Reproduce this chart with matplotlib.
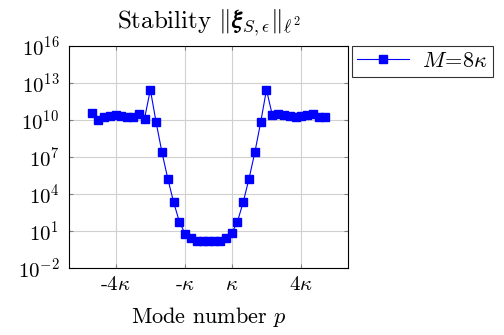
import numpy as np
import matplotlib
matplotlib.use("Agg")
import matplotlib.pyplot as plt
from matplotlib.ticker import FixedLocator, NullLocator, LogFormatterMathtext

plt.rcParams["font.family"] = "cmr10"
plt.rcParams["mathtext.fontset"] = "cm"
plt.rcParams["axes.formatter.use_mathtext"] = True

kappa = 4
# mode numbers p = -20 .. 20
modes = list(range(-20, 21))
# log10 of the stability norm for each mode
log_norm = [
    10.6, 10.0, 10.2, 10.3, 10.4, 10.3, 10.2, 10.2, 10.5, 10.1,
    12.45, 9.8, 7.38, 5.25, 3.35, 1.75, 0.75, 0.4, 0.2, 0.15,
    0.15,
    0.15, 0.2, 0.4, 0.8, 1.75, 3.35, 5.25, 7.38, 9.8, 12.45,
    10.4, 10.5, 10.4, 10.3, 10.2, 10.3, 10.4, 10.5, 10.2, 10.2,
]
xtick_vals = [-4, -1, 1, 4]
xtick_labels = ["-4$\\kappa$", "-$\\kappa$", "$\\kappa$", "4$\\kappa$"]
ytick_exps = [-2, 1, 4, 7, 10, 13, 16]

fig = plt.figure(figsize=(5.04, 3.35), dpi=100)
ax = fig.add_axes([0.137, 0.2, 0.553, 0.663])

p = np.array(modes)
vals = 10.0 ** np.array(log_norm)
ax.plot(p, vals, color="blue", lw=0.8, marker="s", ms=5.2,
        mfc="blue", mec="blue", label="$M\\!=\\!8\\kappa$")

ax.set_yscale("log")
ax.set_ylim(1e-2, 1e16)
ax.set_xlim(-6 * kappa, 6 * kappa)
ax.yaxis.set_major_locator(FixedLocator([10.0 ** e for e in ytick_exps]))
ax.yaxis.set_major_formatter(LogFormatterMathtext())
ax.yaxis.set_minor_locator(NullLocator())
ax.set_xticks([v * kappa for v in xtick_vals])
ax.set_xticklabels(xtick_labels)

ax.grid(True, color="#d0d0d0", lw=0.8)
ax.set_axisbelow(True)
ax.tick_params(direction="in", top=True, right=True, labelsize=15,
               color="#808080", length=3)
ax.tick_params(axis="x", pad=6)
ax.tick_params(axis="y", pad=7)
for s in ax.spines.values():
    s.set_linewidth(0.8)

ax.set_title("Stability $\\Vert\\boldsymbol{\\xi}_{S,\\epsilon}\\Vert_{\\ell^2}$",
             fontsize=18, pad=13)
ax.set_xlabel("Mode number $p$", fontsize=16, labelpad=8)

leg = ax.legend(loc="upper left", bbox_to_anchor=(1.015, 1.0), fontsize=16,
                frameon=True, fancybox=False, edgecolor="black",
                borderaxespad=0, handlelength=2.3, borderpad=0.25,
                handletextpad=0.6)
leg.get_frame().set_linewidth(0.8)

fig.savefig("out.png", dpi=100)
